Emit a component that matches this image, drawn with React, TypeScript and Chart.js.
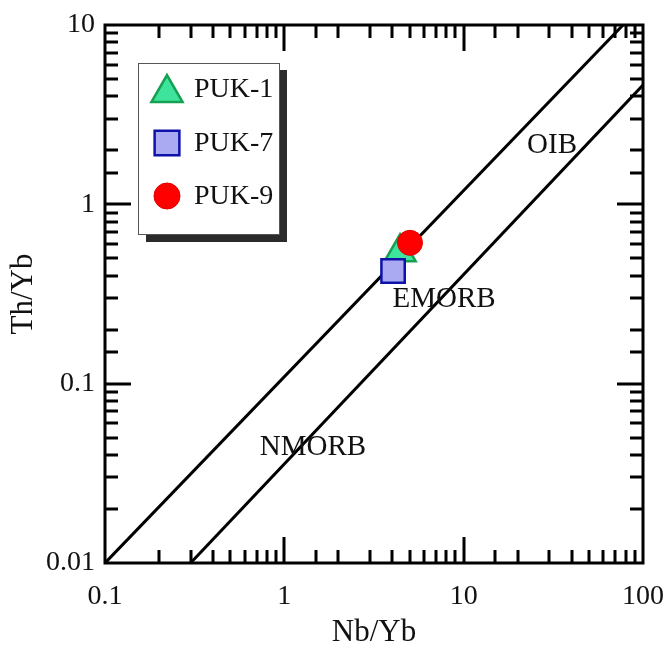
import React, { useEffect, useRef } from "react";
import { Chart, registerables } from "chart.js";

Chart.register(...registerables);

// ---- data ----
const sampleNames = ["PUK-1", "PUK-7", "PUK-9"];
const puk1 = [{ x: 4.42, y: 0.54 }];
const puk7 = [{ x: 4.04, y: 0.425 }];
const puk9 = [{ x: 5.02, y: 0.61 }];
const upperArrayLine = [{ x: 0.1, y: 0.01 }, { x: 77.4, y: 10 }];
const lowerArrayLine = [{ x: 0.3, y: 0.01 }, { x: 100, y: 4.63 }];
const fieldLabels = ["OIB", "EMORB", "NMORB"];
const fieldLabelPos = [
  { x: 31.1, y: 2.14 },
  { x: 7.78, y: 0.296 },
  { x: 1.445, y: 0.0444 },
];
const xTickValues = [0.1, 1, 10, 100];
const xTickLabels = ["0.1", "1", "10", "100"];
const yTickValues = [0.01, 0.1, 1, 10];
const yTickLabels = ["0.01", "0.1", "1", "10"];

const FONT = "'Liberation Serif', 'Times New Roman', serif";

function isPow10(v: number) {
  const l = Math.log10(v);
  return Math.abs(l - Math.round(l)) < 1e-6;
}

function labelFor(v: number, vals: number[], labels: string[]) {
  for (let i = 0; i < vals.length; i++) {
    if (Math.abs(Math.log10(v) - Math.log10(vals[i])) < 1e-6) return labels[i];
  }
  return "";
}

function drawMarker(ctx: CanvasRenderingContext2D, style: string, x: number, y: number, r: number) {
  ctx.beginPath();
  if (style === "triangle") {
    let rad = 0;
    ctx.moveTo(x + Math.sin(rad) * r, y - Math.cos(rad) * r);
    rad += (2 * Math.PI) / 3;
    ctx.lineTo(x + Math.sin(rad) * r, y - Math.cos(rad) * r);
    rad += (2 * Math.PI) / 3;
    ctx.lineTo(x + Math.sin(rad) * r, y - Math.cos(rad) * r);
    ctx.closePath();
  } else if (style === "rect") {
    const s = Math.SQRT1_2 * r;
    ctx.rect(x - s, y - s, 2 * s, 2 * s);
  } else {
    ctx.arc(x, y, r, 0, Math.PI * 2);
  }
  ctx.fill();
  ctx.stroke();
}

const framePlugin = {
  id: "frameTicks",
  afterDatasetsDraw(chart: any) {
    const { ctx, chartArea, scales } = chart;
    const { left, right, top, bottom } = chartArea;
    ctx.save();
    ctx.strokeStyle = "#000";
    ctx.lineWidth = 3;
    ctx.lineCap = "butt";
    const major = 26;
    const minor = 13;
    ctx.beginPath();
    for (const t of scales.x.ticks) {
      const px = Math.round(scales.x.getPixelForValue(t.value));
      const len = isPow10(t.value) ? major : minor;
      if (px <= left + 1 || px >= right - 1) continue;
      ctx.moveTo(px, bottom);
      ctx.lineTo(px, bottom - len);
      ctx.moveTo(px, top);
      ctx.lineTo(px, top + len);
    }
    for (const t of scales.y.ticks) {
      const py = Math.round(scales.y.getPixelForValue(t.value));
      const len = isPow10(t.value) ? major : minor;
      if (py <= top + 1 || py >= bottom - 1) continue;
      ctx.moveTo(left, py);
      ctx.lineTo(left + len, py);
      ctx.moveTo(right, py);
      ctx.lineTo(right - len, py);
    }
    ctx.stroke();
    ctx.beginPath();
    ctx.rect(left, top, right - left, bottom - top);
    ctx.stroke();

    // field labels
    ctx.fillStyle = "#111";
    ctx.font = `29px ${FONT}`;
    ctx.textAlign = "center";
    ctx.textBaseline = "middle";
    fieldLabels.forEach((txt, i) => {
      const p = fieldLabelPos[i];
      ctx.fillText(txt, scales.x.getPixelForValue(p.x), scales.y.getPixelForValue(p.y));
    });
    ctx.restore();
  },
  afterDraw(chart: any) {
    const { ctx, chartArea } = chart;
    const bx = chartArea.left + 33;
    const by = chartArea.top + 38;
    const bw = 141;
    const bh = 171;
    ctx.save();
    ctx.fillStyle = "#2b2b2b";
    ctx.fillRect(bx + 8, by + 7, bw, bh + 1);
    ctx.fillStyle = "#fff";
    ctx.fillRect(bx, by, bw, bh);
    ctx.strokeStyle = "#555";
    ctx.lineWidth = 1;
    ctx.strokeRect(bx + 0.5, by + 0.5, bw, bh);
    const metas = [2, 1, 0];
    const rows = [26, 80, 133];
    ctx.font = `28px ${FONT}`;
    ctx.textAlign = "left";
    ctx.textBaseline = "middle";
    sampleNames.forEach((name, i) => {
      const ds = chart.data.datasets[metas[i]];
      const cy = by + rows[i];
      const cx = bx + 29;
      ctx.fillStyle = ds.backgroundColor;
      ctx.strokeStyle = ds.borderColor;
      ctx.lineWidth = ds.borderWidth;
      drawMarker(ctx, ds.pointStyle, cx, cy + (ds.pointStyle === "triangle" ? 4 : 0), ds.legendRadius);
      ctx.fillStyle = "#111";
      ctx.fillText(name, bx + 56, cy + 1);
    });
    ctx.restore();
  },
};

export default function App() {
  const ref = useRef<HTMLCanvasElement | null>(null);
  useEffect(() => {
    if (!ref.current) return;
    const lineDs = (data: any) => ({
      type: "line" as const,
      data,
      borderColor: "#000",
      borderWidth: 3,
      pointRadius: 0,
      fill: false,
      order: 10,
    });
    const chart = new Chart(ref.current, {
      type: "scatter",
      data: {
        datasets: [
          {
            label: sampleNames[2],
            data: puk9,
            pointStyle: "circle",
            pointRadius: 12.5,
            backgroundColor: "#ff0000",
            borderColor: "#e00000",
            borderWidth: 1,
            order: 1,
            legendRadius: 13,
          } as any,
          {
            label: sampleNames[1],
            data: puk7,
            pointStyle: "rect",
            pointRadius: 16.5,
            backgroundColor: "#a9aaf2",
            borderColor: "#0e12a8",
            borderWidth: 2.5,
            order: 2,
            legendRadius: 17.5,
          } as any,
          {
            label: sampleNames[0],
            data: puk1,
            pointStyle: "triangle",
            pointRadius: 18,
            backgroundColor: "#3fe49c",
            borderColor: "#16a052",
            borderWidth: 2.5,
            order: 3,
            legendRadius: 18,
          } as any,
          lineDs(upperArrayLine) as any,
          lineDs(lowerArrayLine) as any,
        ],
      },
      options: {
        responsive: false,
        animation: false,
        devicePixelRatio: 1,
        layout: { padding: { top: 25, right: 23, left: 0, bottom: 0 } },
        plugins: {
          legend: { display: false },
          tooltip: { enabled: false },
        },
        scales: {
          x: {
            type: "logarithmic",
            min: 0.1,
            max: 100,
            grid: { display: false, drawTicks: false },
            border: { display: false },
            ticks: {
              autoSkip: false,
              maxRotation: 0,
              padding: 17,
              color: "#111",
              font: { family: FONT, size: 28 },
              callback: (v: any) => labelFor(Number(v), xTickValues, xTickLabels),
            },
            title: {
              display: true,
              text: "Nb/Yb",
              color: "#111",
              font: { family: FONT, size: 31 },
              padding: { top: 0, bottom: 0 },
            },
            afterFit: (s: any) => {
              s.height = 88;
              s.paddingLeft = 0;
              s.paddingRight = 0;
            },
          },
          y: {
            type: "logarithmic",
            min: 0.01,
            max: 10,
            grid: { display: false, drawTicks: false },
            border: { display: false },
            ticks: {
              autoSkip: false,
              padding: 10,
              color: "#111",
              font: { family: FONT, size: 28 },
              callback: (v: any) => labelFor(Number(v), yTickValues, yTickLabels),
            },
            title: {
              display: true,
              text: "Th/Yb",
              color: "#111",
              font: { family: FONT, size: 31 },
              padding: { top: 5, bottom: 0 },
            },
            afterFit: (s: any) => {
              s.width = 105;
              s.paddingTop = 0;
              s.paddingBottom = 0;
            },
          },
        },
      },
      plugins: [framePlugin],
    });
    return () => chart.destroy();
  }, []);
  return (
    <div style={{ position: "absolute", left: 0, top: 0, width: 666, height: 651, background: "#fff" }}>
      <canvas ref={ref} width={666} height={651} style={{ display: "block" }} />
    </div>
  );
}
